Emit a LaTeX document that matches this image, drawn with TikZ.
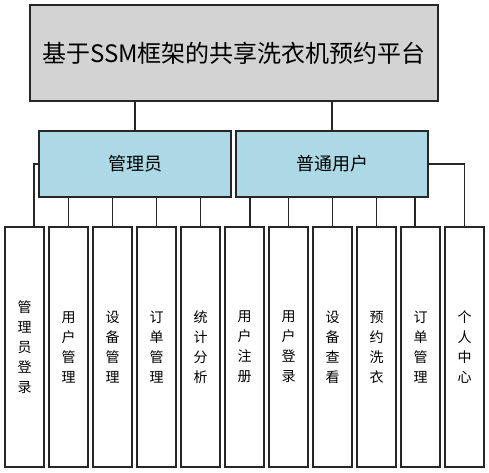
\documentclass[tikz,border=0pt]{standalone}
\usepackage{fontspec}
\setmainfont{Noto Sans CJK SC}
\definecolor{topgray}{HTML}{D3D3D3}
\definecolor{roleblue}{HTML}{ADD8E6}
\begin{document}
\begin{tikzpicture}[x=1bp,y=-1bp,
  box/.style={draw=black!85,line width=1.2bp,rectangle,inner sep=0pt,anchor=center},
  topbox/.style={box,fill=topgray,minimum width=408bp,minimum height=96bp,font=\fontsize{24bp}{28bp}\selectfont},
  rolebox/.style={box,fill=roleblue,minimum width=192bp,minimum height=66bp,font=\fontsize{18bp}{22bp}\selectfont},
  leafbox/.style={box,fill=white,minimum width=39bp,minimum height=240bp,align=center,font=\fontsize{14bp}{20bp}\selectfont},
  conn/.style={draw=black!85,line width=1.2bp}]
\useasboundingbox (0,0) rectangle (489,473);
\node[topbox] (top) at (234,53) {基于SSM框架的共享洗衣机预约平台};
\node[rolebox] (adm) at (135,164) {管理员};
\node[rolebox] (usr) at (332,164) {普通用户};
\node[leafbox] (b1) at (24.5,347) {管\\理\\员\\登\\录};
\node[leafbox] (b2) at (68.5,347) {用\\户\\管\\理};
\node[leafbox] (b3) at (112.5,347) {设\\备\\管\\理};
\node[leafbox] (b4) at (156.5,347) {订\\单\\管\\理};
\node[leafbox] (b5) at (200.5,347) {统\\计\\分\\析};
\node[leafbox] (b6) at (244.5,347) {用\\户\\注\\册};
\node[leafbox] (b7) at (288.5,347) {用\\户\\登\\录};
\node[leafbox] (b8) at (332.5,347) {设\\备\\查\\看};
\node[leafbox] (b9) at (376.5,347) {预\\约\\洗\\衣};
\node[leafbox] (b10) at (420.5,347) {订\\单\\管\\理};
\node[leafbox] (b11) at (464.5,347) {个\\人\\中\\心};
\draw[conn] (top.south -| adm.north) -- (adm.north);
\draw[conn] (top.south -| usr.north) -- (usr.north);
\draw[conn] (adm.west) -| ([xshift=9.5bp]b1.north);
\foreach \b in {b2,b3,b4,b5} \draw[conn] (adm.south -| \b.north) -- (\b.north);
\draw[conn] (usr.south -| b6.north) ++(5.5bp,0) coordinate (c6) (c6) -- ([xshift=5.5bp]b6.north);
\foreach \b in {b7,b8,b9} \draw[conn] (usr.south -| \b.north) -- (\b.north);
\draw[conn] ([xshift=-5.5bp]usr.south -| b10.north) -- ([xshift=-5.5bp]b10.north);
\draw[conn] (usr.east) -| (b11.north);
\end{tikzpicture}
\end{document}
